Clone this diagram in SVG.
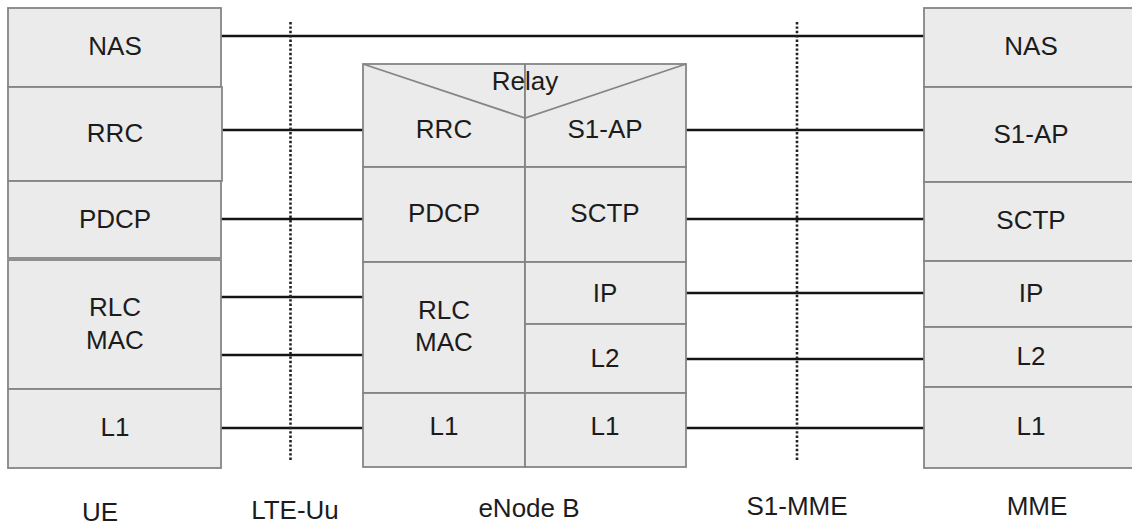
<svg xmlns="http://www.w3.org/2000/svg" width="1132" height="525" viewBox="0 0 1132 525">
<style>
.box{fill:#ebebeb;stroke:#858585;stroke-width:1.8}
.t{font-family:"Liberation Sans",Arial,sans-serif;font-size:26px;fill:#1c1c1c;text-anchor:middle}
.c{stroke:#141414;stroke-width:2.4;fill:none}
.d{stroke:#222;stroke-width:2.6;stroke-dasharray:2.4 2;fill:none}
</style>
<rect width="1132" height="525" fill="#ffffff"/>
<g id="connectors">
<line class="c" x1="221" y1="36" x2="924" y2="36"/>
<line class="c" x1="222" y1="130" x2="363" y2="130"/>
<line class="c" x1="221" y1="219" x2="363" y2="219"/>
<line class="c" x1="221" y1="297" x2="363" y2="297"/>
<line class="c" x1="221" y1="355" x2="363" y2="355"/>
<line class="c" x1="221" y1="428" x2="363" y2="428"/>
<line class="c" x1="686" y1="130" x2="924" y2="130"/>
<line class="c" x1="686" y1="219" x2="924" y2="219"/>
<line class="c" x1="686" y1="293" x2="924" y2="293"/>
<line class="c" x1="686" y1="359" x2="924" y2="359"/>
<line class="c" x1="686" y1="428" x2="924" y2="428"/>
<line class="d" x1="290.5" y1="22" x2="290.5" y2="462"/>
<line class="d" x1="797" y1="22" x2="797" y2="462"/>
</g>
<g id="ue">
<rect class="box" x="8" y="8" width="213" height="79"/>
<rect class="box" x="8" y="87" width="214" height="94"/>
<rect class="box" x="8" y="181" width="213" height="77"/>
<rect class="box" x="8" y="260" width="213" height="129"/>
<rect class="box" x="8" y="389" width="213" height="79"/>
<text class="t" x="115" y="55">NAS</text>
<text class="t" x="115" y="142">RRC</text>
<text class="t" x="115" y="228">PDCP</text>
<text class="t" x="115" y="316">RLC</text>
<text class="t" x="115" y="349">MAC</text>
<text class="t" x="115" y="436">L1</text>
<text class="t" x="100" y="521">UE</text>
</g>
<g id="lte-uu"><text class="t" x="295" y="519">LTE-Uu</text></g>
<g id="enodeb">
<rect class="box" x="363" y="64" width="162" height="103"/>
<rect class="box" x="525" y="64" width="161" height="103"/>
<rect class="box" x="363" y="167" width="162" height="95"/>
<rect class="box" x="525" y="167" width="161" height="95"/>
<rect class="box" x="363" y="262" width="162" height="131"/>
<rect class="box" x="525" y="262" width="161" height="62"/>
<rect class="box" x="525" y="324" width="161" height="69"/>
<rect class="box" x="363" y="393" width="162" height="74"/>
<rect class="box" x="525" y="393" width="161" height="74"/>
<polyline class="box" style="fill:none" points="363,64 525,118 686,64"/>
<text class="t" x="525" y="90">Relay</text>
<text class="t" x="444" y="138">RRC</text>
<text class="t" x="605" y="138">S1-AP</text>
<text class="t" x="444" y="222">PDCP</text>
<text class="t" x="605" y="222">SCTP</text>
<text class="t" x="444" y="319">RLC</text>
<text class="t" x="444" y="351">MAC</text>
<text class="t" x="605" y="302">IP</text>
<text class="t" x="605" y="367">L2</text>
<text class="t" x="444" y="435">L1</text>
<text class="t" x="605" y="435">L1</text>
<text class="t" x="529" y="517">eNode B</text>
</g>
<g id="s1-mme"><text class="t" x="797" y="515">S1-MME</text></g>
<g id="mme">
<rect class="box" x="924" y="8" width="216" height="79"/>
<rect class="box" x="924" y="87" width="216" height="95"/>
<rect class="box" x="924" y="182" width="216" height="79"/>
<rect class="box" x="924" y="261" width="216" height="66"/>
<rect class="box" x="924" y="327" width="216" height="60"/>
<rect class="box" x="924" y="387" width="216" height="81"/>
<text class="t" x="1031" y="55">NAS</text>
<text class="t" x="1031" y="143">S1-AP</text>
<text class="t" x="1031" y="229">SCTP</text>
<text class="t" x="1031" y="302">IP</text>
<text class="t" x="1031" y="365">L2</text>
<text class="t" x="1031" y="435">L1</text>
<text class="t" x="1037" y="515">MME</text>
</g>
</svg>
